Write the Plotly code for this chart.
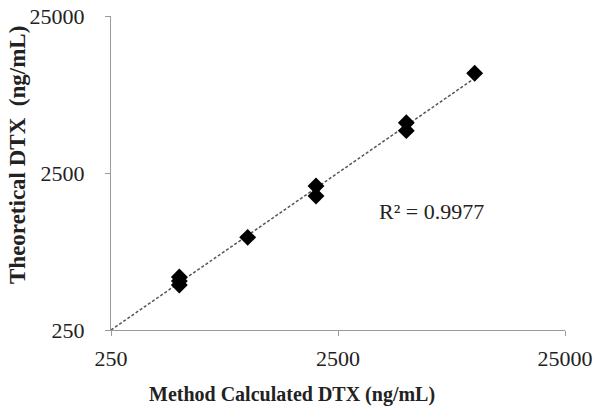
import numpy as np
import plotly.graph_objects as go

# Data
method_calc = [500, 500, 500, 1000, 2000, 2000, 5000, 5000, 10000]
theoretical = [544, 513, 484, 973, 2066, 1785, 5228, 4652, 10790]
tick_vals = [250, 2500, 25000]
tick_text = ["250", "2500", "25000"]
r2_label = "R² = 0.9977"
x_title = "Method Calculated DTX (ng/mL)"
y_title = "Theoretical DTX  (ng/mL)"

# Power-law trendline (linear fit in log-log space)
lx = np.log10(method_calc)
ly = np.log10(theoretical)
slope, intercept = np.polyfit(lx, ly, 1)
trend_x = np.array([250, max(method_calc)])
trend_y = 10 ** (intercept + slope * np.log10(trend_x))

SERIF = "Liberation Serif, Times New Roman, serif"

fig = go.Figure()
fig.add_trace(go.Scatter(
    x=trend_x, y=trend_y, mode="lines",
    line=dict(color="#555555", width=1.5, dash="3px,2px"),
    hoverinfo="skip", showlegend=False,
))
fig.add_trace(go.Scatter(
    x=method_calc, y=theoretical, mode="markers",
    marker=dict(symbol="diamond", size=13, color="black"),
    showlegend=False,
))

axis_common = dict(
    type="log",
    range=[np.log10(250), np.log10(25000)],
    tickvals=tick_vals, ticktext=tick_text,
    showgrid=False, zeroline=False,
    showline=True, linecolor="#9a9a9a", linewidth=1,
    ticks="outside", ticklen=5, tickcolor="#9a9a9a",
    tickfont=dict(family=SERIF, size=22, color="#222222"),
    automargin=False,
)
fig.update_xaxes(**axis_common, ticklabelstandoff=4)
fig.update_yaxes(**axis_common, ticklabelstandoff=16)

L, R, T, B = 111, 565, 16, 330
FW, FH = 601, 409
W, H = R - L, B - T

fig.update_layout(
    width=FW, height=FH,
    margin=dict(l=L, r=FW - R, t=T, b=FH - B),
    plot_bgcolor="white", paper_bgcolor="white",
    annotations=[
        dict(text=r2_label, showarrow=False, xref="paper", yref="paper",
             x=(431 - L) / W, y=(B - 211) / H, xanchor="center", yanchor="middle",
             font=dict(family=SERIF, size=22, color="#222222")),
        dict(text="<b>" + x_title + "</b>", showarrow=False, xref="paper", yref="paper",
             x=(292 - L) / W, y=(B - 394) / H, xanchor="center", yanchor="middle",
             font=dict(family=SERIF, size=20, color="#222222")),
        dict(text="<b>" + y_title + "</b>", showarrow=False, xref="paper", yref="paper",
             x=(17 - L) / W, y=(B - 155) / H, textangle=-90, xanchor="center", yanchor="middle",
             font=dict(family=SERIF, size=23, color="#222222")),
    ],
)

fig.write_html(
    "out.html",
    config={"displayModeBar": False},
    post_script="document.body.style.margin='0';document.documentElement.style.overflow='hidden';",
)
